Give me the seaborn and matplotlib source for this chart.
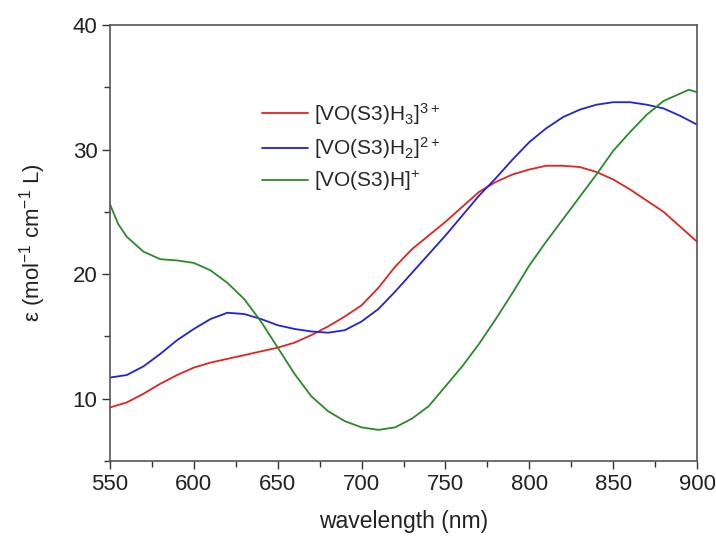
import pandas as pd
import matplotlib
matplotlib.use('Agg')
import matplotlib.pyplot as plt
from matplotlib.ticker import MultipleLocator
import seaborn as sns

sns.set_theme(style='ticks')
plt.rcParams['font.family'] = ['Liberation Sans', 'DejaVu Sans']
plt.rcParams['mathtext.default'] = 'regular'

# ─── Data ────────────────────────────────────────────────────
wl_red = [550, 560, 570, 580, 590, 600, 610, 620, 630, 640, 650, 660, 670, 680,
          690, 700, 710, 720, 730, 740, 750, 760, 770, 780, 790, 800, 810, 820,
          830, 840, 850, 860, 870, 880, 890, 900]
eps_red = [9.3, 9.7, 10.4, 11.2, 11.9, 12.5, 12.9, 13.2, 13.5, 13.8, 14.1, 14.5,
           15.1, 15.8, 16.6, 17.5, 18.9, 20.6, 22.0, 23.1, 24.2, 25.4, 26.6, 27.4,
           28.0, 28.4, 28.7, 28.7, 28.6, 28.2, 27.6, 26.8, 25.9, 25.0, 23.8, 22.6]

wl_blue = [550, 560, 570, 580, 590, 600, 610, 620, 630, 640, 650, 660, 670, 680,
           690, 700, 710, 720, 730, 740, 750, 760, 770, 780, 790, 800, 810, 820,
           830, 840, 850, 860, 870, 880, 890, 900]
eps_blue = [11.7, 11.9, 12.6, 13.6, 14.7, 15.6, 16.4, 16.9, 16.8, 16.4, 15.9, 15.6,
            15.4, 15.3, 15.5, 16.2, 17.2, 18.6, 20.1, 21.6, 23.1, 24.7, 26.3, 27.7,
            29.2, 30.6, 31.7, 32.6, 33.2, 33.6, 33.8, 33.8, 33.6, 33.3, 32.7, 32.0]

wl_green = [550, 555, 560, 570, 580, 590, 600, 610, 620, 630, 640, 650, 660, 670,
            680, 690, 700, 710, 720, 730, 740, 750, 760, 770, 780, 790, 800, 810,
            820, 830, 840, 850, 860, 870, 880, 890, 895, 900]
eps_green = [25.6, 24.0, 23.0, 21.8, 21.2, 21.1, 20.9, 20.3, 19.3, 18.0, 16.2, 14.1,
             12.0, 10.2, 9.0, 8.2, 7.7, 7.5, 7.7, 8.4, 9.4, 11.0, 12.6, 14.4, 16.4,
             18.5, 20.7, 22.6, 24.4, 26.2, 28.0, 29.9, 31.4, 32.8, 33.9, 34.5, 34.8,
             34.6]

labels = [r'[VO(S3)H$_3$]$^{3+}$', r'[VO(S3)H$_2$]$^{2+}$', r'[VO(S3)H]$^{+}$']
colors = ['#e42222', '#2222d6', '#2a8a2a']

df = pd.concat([
    pd.DataFrame({'wl': wl_red, 'eps': eps_red, 'species': labels[0]}),
    pd.DataFrame({'wl': wl_blue, 'eps': eps_blue, 'species': labels[1]}),
    pd.DataFrame({'wl': wl_green, 'eps': eps_green, 'species': labels[2]}),
])

# ─── Plot ────────────────────────────────────────────────────
fig = plt.figure(figsize=(7.16, 5.37), dpi=100)
ax = fig.add_axes([0.1536, 0.1415, 0.82, 0.812])

sns.lineplot(data=df, x='wl', y='eps', hue='species', hue_order=labels,
             palette=dict(zip(labels, colors)), linewidth=1.3, ax=ax,
             estimator=None, sort=False)

ax.set_xlim(550, 900)
ax.set_ylim(5, 40)
ax.xaxis.set_major_locator(MultipleLocator(50))
ax.xaxis.set_minor_locator(MultipleLocator(25))
ax.yaxis.set_major_locator(MultipleLocator(10))
ax.yaxis.set_minor_locator(MultipleLocator(5))
ax.tick_params(which='both', direction='out', colors='#333333', labelcolor='#222222',
               labelsize=16, width=1, pad=3)
ax.tick_params(which='major', length=6)
ax.tick_params(which='minor', length=4)
ax.tick_params(top=False, right=False)
for s in ax.spines.values():
    s.set_color('#555555')
    s.set_linewidth(1.2)

ax.set_xlabel('wavelength (nm)', fontsize=16.5, color='#222222', labelpad=11)
ax.set_ylabel(r'ε (mol$^{-1}$ cm$^{-1}$ L)', fontsize=16, color='#222222', labelpad=18)

ax.legend(frameon=False, fontsize=15, loc='upper left',
          bbox_to_anchor=(0.245, 0.845), handlelength=2.2, handletextpad=0.3,
          labelspacing=0.4, borderaxespad=0)

plt.savefig('out.png', dpi=100)
